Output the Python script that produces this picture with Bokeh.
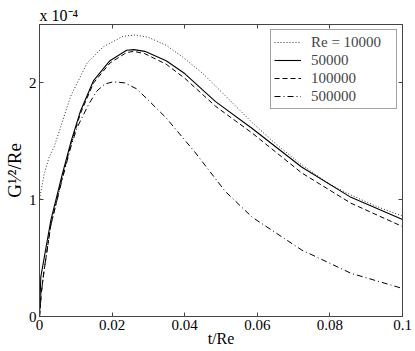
from bokeh.plotting import figure
from bokeh.models import (Range1d, FixedTicker, LinearAxis, Legend, LegendItem,
                          CustomJSTickFormatter, Title)
from bokeh.embed import file_html
from bokeh.resources import INLINE

FONT = "Liberation Serif"
AXC = "#444444"

# ---- data (G^{1/2}/Re in units of 1e-4) ----
x_ticks = [0, 0.02, 0.04, 0.06, 0.08, 0.1]
x_tick_labels = ["0", "0.02", "0.04", "0.06", "0.08", "0.1"]
y_ticks = [0, 1, 2]
y_tick_labels = ["0", "1", "2"]

x_label = "t/Re"
y_label = "G\u00b9\u2044\u00b2/Re"
exponent_label = "x 10\u207b\u2074"

series_names = ["Re = 10000", "50000", "100000", "500000"]

t_re10k = [0.0, 0.0002, 0.0013, 0.0026, 0.004, 0.0054, 0.0085, 0.0131, 0.0176, 0.0231,
           0.0265, 0.030, 0.035, 0.0395, 0.045, 0.0512, 0.0586, 0.065, 0.0722, 0.080,
           0.0858, 0.093, 0.100]
g_re10k = [0.98, 1.04, 1.22, 1.36, 1.45, 1.58, 1.88, 2.17, 2.31, 2.40,
           2.41, 2.39, 2.32, 2.22, 2.08, 1.89, 1.66, 1.48, 1.30, 1.13,
           1.04, 0.94, 0.86]

t_re50k = [0.0, 0.00036, 0.0031, 0.0063, 0.0076, 0.0088, 0.0113, 0.0149, 0.0194, 0.024,
           0.026, 0.029, 0.0349, 0.040, 0.0485, 0.0586, 0.0722, 0.0858, 0.100]
g_re50k = [0.0, 0.34, 0.82, 1.22, 1.37, 1.51, 1.76, 2.02, 2.19, 2.28,
           2.285, 2.27, 2.19, 2.08, 1.84, 1.61, 1.28, 1.02, 0.83]

t_re100k = [0.0, 0.0005, 0.0012, 0.0031, 0.0063, 0.0088, 0.0113, 0.0149, 0.0194, 0.024,
            0.026, 0.029, 0.0349, 0.040, 0.0485, 0.0586, 0.0722, 0.0858, 0.100]
g_re100k = [0.0, 0.20, 0.38, 0.78, 1.19, 1.49, 1.74, 2.00, 2.17, 2.26,
            2.27, 2.25, 2.16, 2.04, 1.80, 1.57, 1.23, 0.97, 0.77]

t_re500k = [0.0, 0.0005, 0.0012, 0.0031, 0.0063, 0.0088, 0.0104, 0.0136, 0.0158, 0.0180,
            0.0203, 0.0235, 0.0267, 0.0294, 0.0349, 0.043, 0.0512, 0.0586, 0.0722,
            0.0858, 0.100]
g_re500k = [0.0, 0.20, 0.38, 0.78, 1.18, 1.47, 1.62, 1.82, 1.93, 1.99,
            2.01, 2.00, 1.95, 1.87, 1.70, 1.40, 1.07, 0.85, 0.57,
            0.37, 0.24]

# ---- figure ----
p = figure(width=415, height=351, x_range=Range1d(0, 0.1), y_range=Range1d(0, 2.5),
           output_backend="svg", toolbar_location=None,
           min_border_left=35, min_border_right=13, min_border_top=24, min_border_bottom=35)
p.background_fill_color = "white"
p.border_fill_color = "white"
p.outline_line_color = AXC
p.outline_line_width = 1
p.grid.visible = False

# exponent as title (top-left)
p.title = Title(text=exponent_label, align="left", text_font=FONT,
                text_font_size="16px", text_font_style="normal",
                text_color="black", standoff=1, offset=0)

for ax in (p.xaxis[0], p.yaxis[0]):
    ax.major_tick_in = 4
    ax.major_tick_out = 0
    ax.minor_tick_line_color = None
    ax.axis_line_color = AXC
    ax.major_tick_line_color = AXC
    ax.major_label_text_font = FONT
    ax.major_label_text_font_size = "15px"
    ax.major_label_text_color = "black"
    ax.major_label_standoff = 3
    ax.axis_label_text_font = FONT
    ax.axis_label_text_font_style = "normal"
    ax.axis_label_text_color = "black"

p.xaxis.ticker = FixedTicker(ticks=x_ticks)
p.xaxis.major_label_overrides = dict(zip(x_ticks, x_tick_labels))
p.xaxis.axis_label = x_label
p.xaxis.axis_label_text_font_size = "16px"
p.xaxis.axis_label_standoff = -3

p.yaxis.ticker = FixedTicker(ticks=y_ticks)
p.yaxis.major_label_overrides = dict(zip(y_ticks, y_tick_labels))
p.yaxis.axis_label = y_label
p.yaxis.axis_label_text_font_size = "19px"
p.yaxis.axis_label_standoff = 1

# mirrored tick marks (top and right)
top = LinearAxis(ticker=FixedTicker(ticks=x_ticks),
                 formatter=CustomJSTickFormatter(code="return ''"),
                 major_label_text_font_size="0px", major_label_standoff=0,
                 major_tick_in=4, major_tick_out=0, minor_tick_line_color=None,
                 axis_line_color=AXC, major_tick_line_color=AXC)
p.add_layout(top, "above")
right = LinearAxis(ticker=FixedTicker(ticks=y_ticks),
                   formatter=CustomJSTickFormatter(code="return ''"),
                   major_label_text_font_size="0px", major_label_standoff=0,
                   major_tick_in=4, major_tick_out=0, minor_tick_line_color=None,
                   axis_line_color=AXC, major_tick_line_color=AXC)
p.add_layout(right, "right")

# ---- curves ----
r1 = p.line(t_re10k, g_re10k, line_color="#333333", line_width=1, line_dash="1 2")
r2 = p.line(t_re50k, g_re50k, line_color="black", line_width=1.1)
r3 = p.line(t_re100k, g_re100k, line_color="black", line_width=1, line_dash="5 3")
r4 = p.line(t_re500k, g_re500k, line_color="black", line_width=1, line_dash="6 3 1 3")

legend = Legend(items=[LegendItem(label=series_names[0], renderers=[r1]),
                       LegendItem(label=series_names[1], renderers=[r2]),
                       LegendItem(label=series_names[2], renderers=[r3]),
                       LegendItem(label=series_names[3], renderers=[r4])],
                location="top_right", margin=5, padding=3, spacing=0,
                label_height=18, glyph_height=18, glyph_width=27, label_standoff=10,
                label_width=82,
                label_text_font=FONT, label_text_font_size="15px",
                border_line_color=AXC, border_line_width=1,
                background_fill_color="white", background_fill_alpha=1)
p.add_layout(legend)

open("out.html", "w").write(file_html(p, INLINE))
